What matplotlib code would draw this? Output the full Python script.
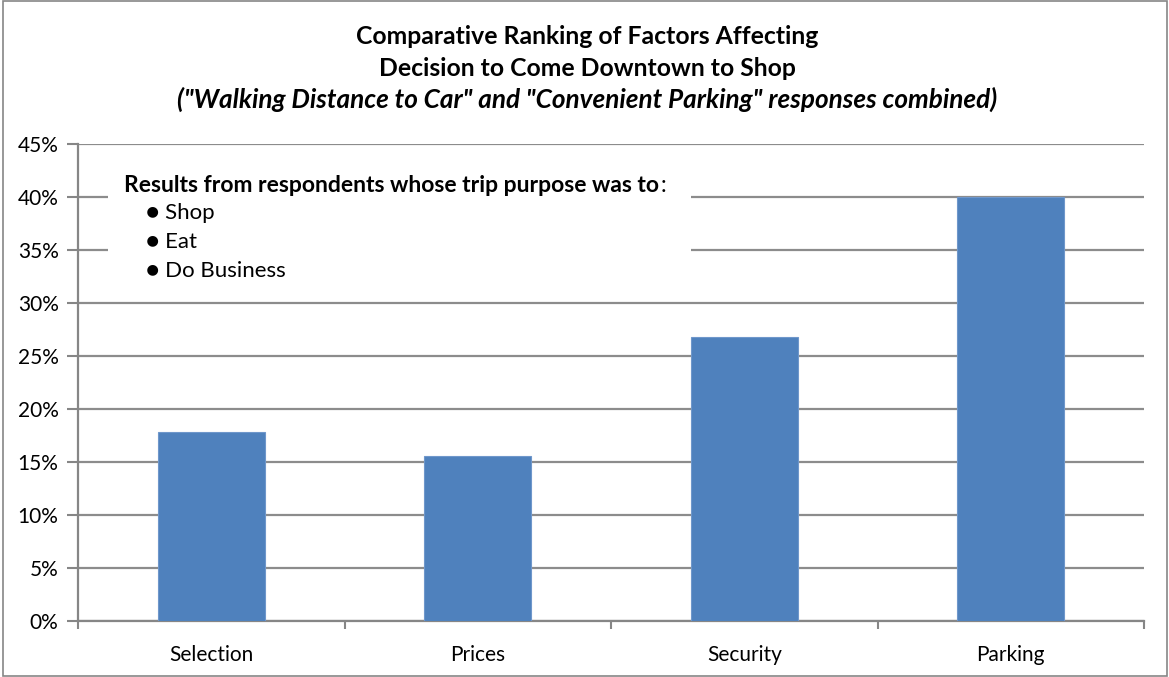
import matplotlib
matplotlib.use("Agg")
import matplotlib.pyplot as plt
import numpy as np
from matplotlib.patches import Rectangle
from matplotlib.ticker import FixedLocator, PercentFormatter

plt.rcParams['font.family'] = ['Lato', 'DejaVu Sans']

categories = ["Selection", "Prices", "Security", "Parking"]
values = [17.8, 15.6, 26.8, 40.0]
yticks = [0, 5, 10, 15, 20, 25, 30, 35, 40, 45]

W, H = 1169, 677
fig = plt.figure(figsize=(W / 100, H / 100), dpi=100)
fig.patch.set_facecolor("white")
fig.add_artist(Rectangle((3 / W, 1 / H), 1164 / W, 675 / H, transform=fig.transFigure,
                         fill=False, edgecolor="#868686", linewidth=1.2))

left, right, bottom, top = 78, 1144, 621, 144
ax = fig.add_axes([left / W, 1 - bottom / H, (right - left) / W, (bottom - top) / H])

x = np.arange(len(categories))
ax.bar(x, values, width=0.4, color="#4F81BD", edgecolor="#6f97cb", linewidth=0.8, zorder=3)
ax.set_xlim(-0.5, len(categories) - 0.5)
ax.set_ylim(0, 45)
ax.set_yticks(yticks)
ax.yaxis.set_major_formatter(PercentFormatter(decimals=0))
ax.yaxis.grid(True, color="#8c8c8c", linewidth=1.6, zorder=0)
ax.set_axisbelow(True)
ax.set_xticks(x)
ax.set_xticklabels(categories, fontsize=15)
ax.xaxis.set_minor_locator(FixedLocator(np.arange(-0.5, len(categories), 1.0)))
ax.tick_params(axis='x', which='major', length=0, pad=17)
ax.tick_params(axis='x', which='minor', length=6, color="#868686", width=1.5, direction='out')
ax.tick_params(axis='y', length=8, color="#868686", width=1.5, labelsize=15, pad=6)
for s in ["top", "right"]:
    ax.spines[s].set_visible(False)
for s in ["left", "bottom"]:
    ax.spines[s].set_color("#868686")
    ax.spines[s].set_linewidth(1.6)

# white note box
ax_note = fig.add_axes([108 / W, 1 - 292 / H, (691 - 108) / W, (292 - 165) / H])
ax_note.set_axis_off()
ax_note.add_patch(Rectangle((0, 0), 1, 1, transform=ax_note.transAxes, facecolor="white",
                            edgecolor="none", zorder=0))
head = fig.text(124 / W, 1 - 186 / H, "Results from respondents whose trip purpose was to",
                fontsize=16.5, fontweight="bold", va="center", ha="left")
fig.add_artist(matplotlib.text.Annotation(":", xy=(1, 0.5), xycoords=head, xytext=(1, 0),
                                          textcoords="offset points", fontsize=16.5,
                                          va="center", ha="left"))
for i, t in enumerate(["Shop", "Eat", "Do Business"]):
    fig.text(146 / W, 1 - (213 + 29 * i) / H, "\u25cf " + t, fontsize=16, va="center", ha="left")

fig.text(587 / W, 1 - 37 / H, "Comparative Ranking of Factors Affecting", fontsize=17.8,
         fontweight="bold", ha="center", va="center")
fig.text(587 / W, 1 - 68 / H, "Decision to Come Downtown to Shop", fontsize=17.8,
         fontweight="bold", ha="center", va="center")
fig.text(587 / W, 1 - 99 / H,
         "(\"Walking Distance to Car\" and \"Convenient Parking\" responses combined)",
         fontsize=18.8, fontweight="bold", fontstyle="italic", ha="center", va="center")

fig.savefig("out.png", dpi=100, facecolor="white")
